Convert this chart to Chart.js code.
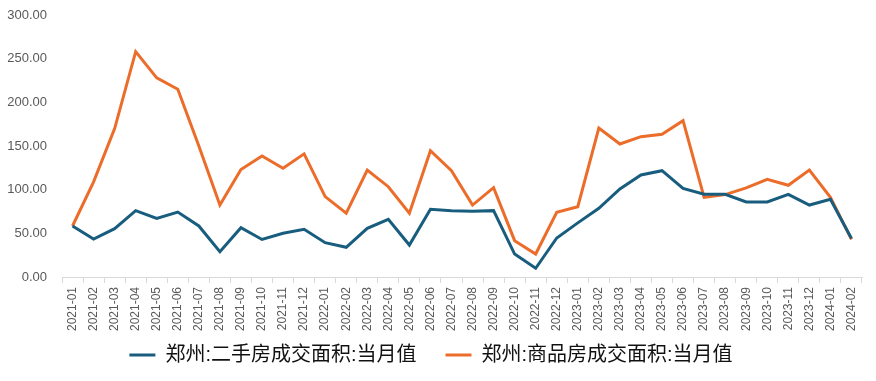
<!DOCTYPE html>
<html>
<head>
<meta charset="utf-8">
<script src="https://cdn.jsdelivr.net/npm/chart.js@4"></script>
<style>
html,body{margin:0;padding:0;background:#fff;}
#wrap{width:876px;height:381px;position:relative;}
</style>
</head>
<body>
<div id="wrap"><canvas id="c" width="876" height="381"></canvas></div>
<script>
const categories = ["2021-01","2021-02","2021-03","2021-04","2021-05","2021-06","2021-07","2021-08","2021-09","2021-10","2021-11","2021-12",
"2022-01","2022-02","2022-03","2022-04","2022-05","2022-06","2022-07","2022-08","2022-09","2022-10","2022-11","2022-12",
"2023-01","2023-02","2023-03","2023-04","2023-05","2023-06","2023-07","2023-08","2023-09","2023-10","2023-11","2023-12",
"2024-01","2024-02"];
const secondHand = [58.4,43.5,55.3,76,67,74.4,58.4,29,56.5,43,50,54.6,
39.3,34,55.7,66,36.6,77.5,76,75.2,76,26.3,10,44.7,
62,78.6,100.8,116.8,121.7,101.5,94.7,94.7,86,86,94.7,82.4,
89,44];
const commercial = [58.4,109,170,258,228,215,150,82.4,123,138.5,124.5,141,
92,73,122.5,103.4,73,144.6,121.7,82.4,102.3,41.6,26.3,74,
80.5,170.6,152.3,160.7,163.4,179,91.2,94.3,102,111.8,105,122.5,
91.2,43.1];
const seriesNames = ["郑州:二手房成交面积:当月值","郑州:商品房成交面积:当月值"];
const yTicks = [0,50,100,150,200,250,300];

const FONT = "'Liberation Sans','Noto Sans CJK SC',sans-serif";

// moves the legend row up to the reference height, keeping its box tall enough
const legendShift = {
  id:'legendShift',
  afterLayout(chart){
    const l = chart.legend;
    if (l) {
      l.top -= 18;
      l.height = l.bottom - l.top + 12;
      l.bottom = l.top + l.height;
    }
  }
};

new Chart(document.getElementById('c'), {
  type: 'line',
  data: {
    labels: categories,
    datasets: [
      {label: seriesNames[0], data: secondHand, borderColor:'#185d7e', backgroundColor:'#185d7e', borderWidth:3, pointRadius:0, tension:0},
      {label: seriesNames[1], data: commercial, borderColor:'#ec6c2a', backgroundColor:'#ec6c2a', borderWidth:3, pointRadius:0, tension:0}
    ]
  },
  plugins:[legendShift],
  options: {
    responsive:false,
    animation:false,
    layout:{padding:{top:15,right:14,left:0,bottom:6}},
    plugins:{
      legend:{
        position:'bottom',
        maxHeight:41,
        labels:{
          font:{family:FONT,size:20},
          color:'#111111',
          boxWidth:26,
          boxHeight:3,
          padding:29,
          generateLabels:(chart)=>{
            const items = Chart.defaults.plugins.legend.labels.generateLabels(chart);
            items.forEach(it=>{it.lineWidth=0;});
            return items;
          }
        }
      },
      tooltip:{enabled:false}
    },
    scales:{
      x:{
        offset:true,
        afterFit:(s)=>{s.height=57;},
        grid:{display:true,drawOnChartArea:false,drawTicks:true,tickLength:6,color:'#d9d9d9',offset:true},
        border:{display:true,color:'#d9d9d9'},
        ticks:{font:{family:FONT,size:12},color:'#595959',maxRotation:90,minRotation:90,autoSkip:false,padding:4}
      },
      y:{
        min:0,max:300,
        afterFit:(s)=>{s.width=62;s.paddingTop=0;s.paddingBottom=0;},
        afterBuildTicks:(s)=>{s.ticks = yTicks.map(v=>({value:v}));},
        grid:{display:false,drawTicks:false},
        border:{display:false},
        ticks:{font:{family:FONT,size:13},color:'#595959',padding:15,callback:(v)=>Number(v).toFixed(2)}
      }
    }
  }
});
</script>
</body>
</html>
